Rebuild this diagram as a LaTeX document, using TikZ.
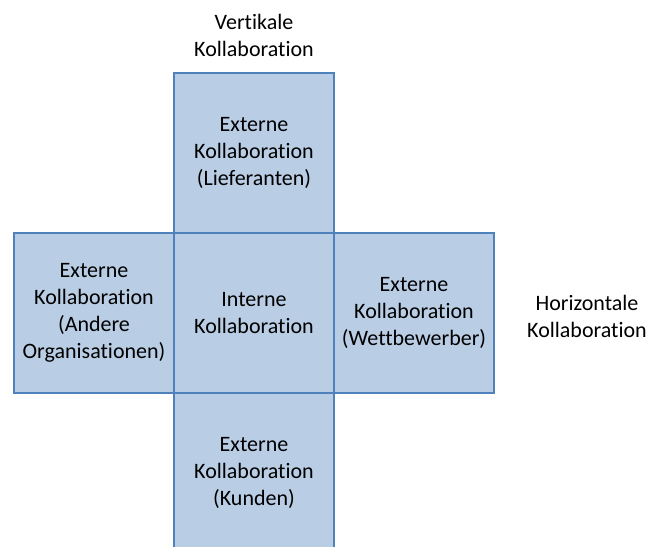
\documentclass[tikz,border=0pt]{standalone}
\usepackage{fontspec}
\setmainfont{Carlito}[Ligatures=NoCommon]
\usetikzlibrary{positioning}
\definecolor{feld}{HTML}{B9CDE5}
\definecolor{rand}{HTML}{4F81BD}
\tikzset{
  feldbox/.style={draw=rand, fill=feld, line width=1.5pt, minimum size=160pt,
    inner sep=0pt, outer sep=0pt, align=center, font=\fontsize{22}{27}\selectfont},
  beschr/.style={align=center, font=\fontsize{22}{27}\selectfont}
}
\begin{document}
\begin{tikzpicture}[x=1pt,y=1pt]
  \useasboundingbox (0,0) rectangle (649,547);
  \clip (0,0) rectangle (649,547);
  \node[feldbox] (intern) at (254,234) {Interne\\Kollaboration};
  \node[feldbox, above=0pt of intern] (lief) {Externe\\Kollaboration\\(Lieferanten)};
  \node[feldbox, left=0pt of intern] (orga) {Externe\\Kollaboration\\(Andere\\Organisationen)};
  \node[feldbox, right=0pt of intern] (wett) {Externe\\Kollaboration\\(Wettbewerber)};
  \node[feldbox, below=0pt of intern] (kund) {Externe\\Kollaboration\\(Kunden)};
  \node[beschr] (vert) at (254,512) {Vertikale\\Kollaboration};
  \node[beschr] (hori) at (587,231) {Horizontale\\Kollaboration};
\end{tikzpicture}
\end{document}
